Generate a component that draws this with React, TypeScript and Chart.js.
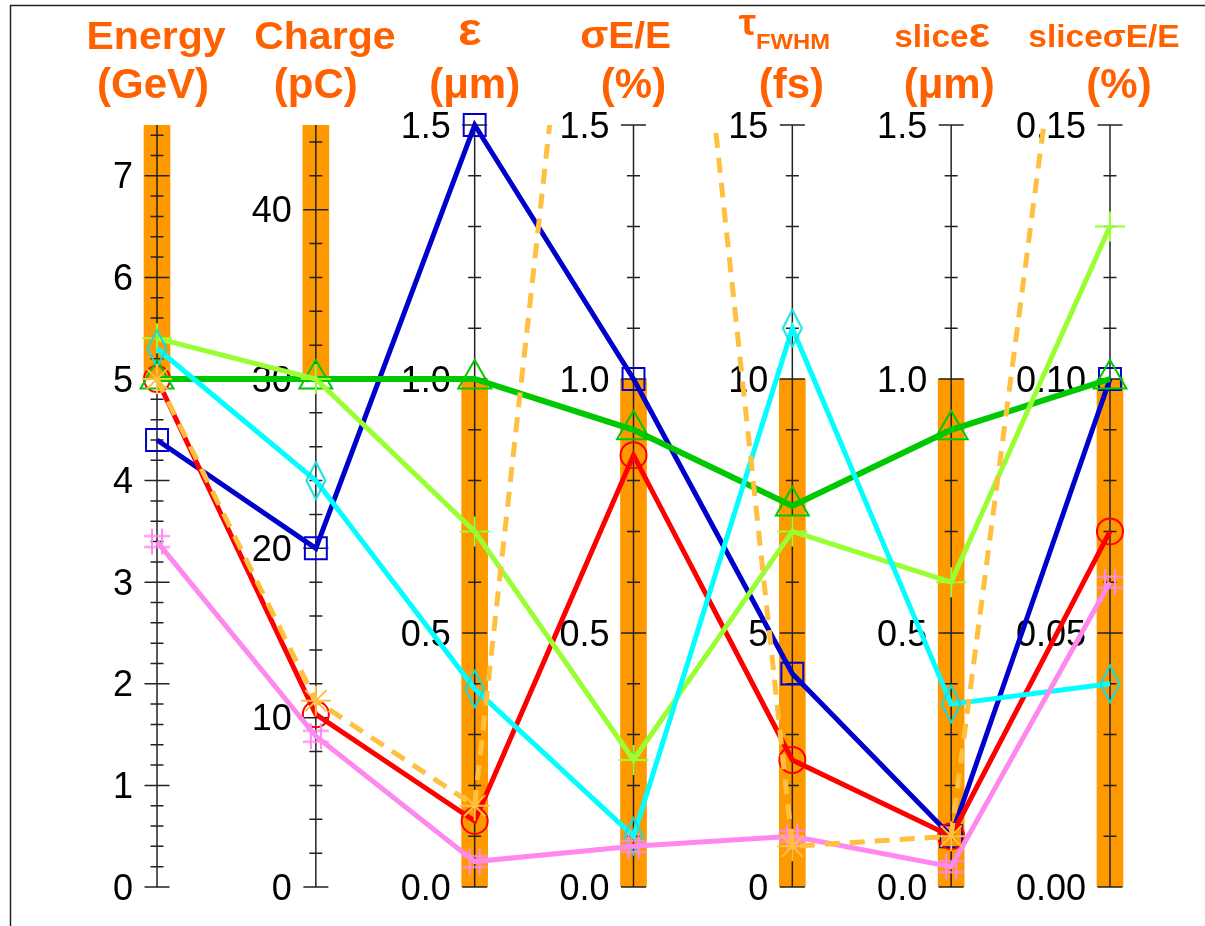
import React, { useEffect, useRef } from "react";
import { Chart, registerables } from "chart.js";

Chart.register(...registerables);

// ---------- axes (parallel coordinates) ----------
const axisTitles = ["Energy", "Charge", "ε", "σE/E", "τFWHM", "sliceε", "sliceσE/E"];
const axisUnits = ["(GeV)", "(pC)", "(μm)", "(%)", "(fs)", "(μm)", "(%)"];
const axisMax = [7.5, 45, 1.5, 1.5, 15, 1.5, 0.15];
const majorStep = [1, 10, 0.5, 0.5, 5, 0.5, 0.05];
const minorStep = [0.2, 2, 0.1, 0.1, 1, 0.1, 0.01];

const tickLabelsEnergy = ["0", "1", "2", "3", "4", "5", "6", "7"];
const tickLabelsCharge = ["0", "10", "20", "30", "40"];
const tickLabelsEmit = ["0.0", "0.5", "1.0", "1.5"];
const tickLabelsSpread = ["0.0", "0.5", "1.0", "1.5"];
const tickLabelsTau = ["0", "5", "10", "15"];
const tickLabelsSliceEmit = ["0.0", "0.5", "1.0", "1.5"];
const tickLabelsSliceSpread = ["0.00", "0.05", "0.10", "0.15"];
const tickLabels = [
  tickLabelsEnergy,
  tickLabelsCharge,
  tickLabelsEmit,
  tickLabelsSpread,
  tickLabelsTau,
  tickLabelsSliceEmit,
  tickLabelsSliceSpread,
];

// target windows (orange bars)
const targetLow = [5, 30, 0, 0, 0, 0, 0];
const targetHigh = [7.5, 45, 1.0, 1.0, 10, 1.0, 0.1];

// ---------- series ----------
const seriesBlue = [4.4, 20, 1.5, 1.0, 4.2, 0.1, 0.1];
const seriesRed = [5.0, 10.2, 0.13, 0.85, 2.5, 0.1, 0.07];
const seriesGreen = [5.0, 30, 1.0, 0.9, 7.5, 0.9, 0.1];
const seriesLightGreen = [5.4, 30, 0.7, 0.25, 7.0, 0.6, 0.13];
const seriesCyan = [5.3, 24, 0.39, 0.1, 11, 0.36, 0.04];
const seriesPink = [3.4, 8.9, 0.05, 0.08, 1.0, 0.04, 0.06];
const seriesOrange = [5.0, 11, 0.16, 3.0, 0.8, 0.1, 0.25];

const FF = '"Liberation Sans", Arial, Helvetica, sans-serif';
const TITLE_COLOR = "#ff6000";

const norm = (vals: number[]) => vals.map((v, i) => ({ x: i, y: v / axisMax[i] }));

type Seg = { text: string; font: string; dy?: number };

function makeDiamond(color: string) {
  const c = document.createElement("canvas");
  c.width = 22;
  c.height = 40;
  const g = c.getContext("2d")!;
  g.strokeStyle = color;
  g.lineWidth = 2;
  g.beginPath();
  g.moveTo(11, 1.5);
  g.lineTo(20.5, 20);
  g.lineTo(11, 38.5);
  g.lineTo(1.5, 20);
  g.closePath();
  g.stroke();
  return c;
}

function makeHash(color: string) {
  const c = document.createElement("canvas");
  c.width = 30;
  c.height = 30;
  const g = c.getContext("2d")!;
  g.strokeStyle = color;
  g.lineWidth = 2;
  g.beginPath();
  g.moveTo(10, 2);
  g.lineTo(10, 28);
  g.moveTo(20, 2);
  g.lineTo(20, 28);
  g.moveTo(2, 9.5);
  g.lineTo(28, 9.5);
  g.moveTo(2, 20.5);
  g.lineTo(28, 20.5);
  g.stroke();
  return c;
}

function drawRich(ctx: CanvasRenderingContext2D, segs: Seg[], cx: number, baseline: number, sx: number) {
  let total = 0;
  for (const s of segs) {
    ctx.font = s.font;
    total += ctx.measureText(s.text).width;
  }
  ctx.save();
  ctx.translate(cx - (total * sx) / 2, baseline);
  ctx.scale(sx, 1);
  let x = 0;
  for (const s of segs) {
    ctx.font = s.font;
    ctx.fillText(s.text, x, s.dy || 0);
    x += ctx.measureText(s.text).width;
  }
  ctx.restore();
}

const BAR_INDEX = 7;

export default function App() {
  const ref = useRef<HTMLCanvasElement | null>(null);

  useEffect(() => {
    if (!ref.current) return;

    const b38 = `bold 38px ${FF}`;
    const b31 = `bold 31px ${FF}`;
    const titleRow1: Seg[][] = [
      [{ text: axisTitles[0], font: b38 }],
      [{ text: axisTitles[1], font: b38 }],
      [{ text: "ε", font: `bold 46px ${FF}`, dy: -4 }],
      [
        { text: "σ", font: `bold 38px ${FF}`, dy: -1 },
        { text: "E/E", font: `bold 36px ${FF}`, dy: -1 },
      ],
      [
        { text: "τ", font: `bold 36px ${FF}`, dy: -14 },
        { text: "FWHM", font: `bold 22px ${FF}` },
      ],
      [
        { text: "slice", font: b31, dy: -2 },
        { text: "ε", font: `bold 42px ${FF}`, dy: -2 },
      ],
      [
        { text: "slice", font: b31, dy: -2 },
        { text: "σ", font: `bold 31px ${FF}`, dy: -2 },
        { text: "E/E", font: b31, dy: -2 },
      ],
    ];
    const row1Offset = [-1, 9, -5, -8, -8, -9, -6];
    const row2Offset = [-4, 0, 0, 0, -1, -2, 9];

    const axesPlugin = {
      id: "pcAxes",
      afterDatasetDraw(chart: any, args: any) {
        if (args.index !== BAR_INDEX) return;
        const ctx: CanvasRenderingContext2D = chart.ctx;
        const xs = chart.scales.x;
        ctx.save();
        ctx.strokeStyle = "#222";
        ctx.lineWidth = 1.5;
        for (let i = 0; i < axisMax.length; i++) {
          const sc = chart.scales["a" + i];
          const x = xs.getPixelForValue(i);
          ctx.beginPath();
          ctx.moveTo(x, sc.getPixelForValue(axisMax[i]));
          ctx.lineTo(x, sc.getPixelForValue(0));
          ctx.stroke();
          const n = Math.floor(axisMax[i] / minorStep[i] + 1e-6);
          const ratio = Math.round(majorStep[i] / minorStep[i]);
          ctx.beginPath();
          for (let k = 0; k <= n; k++) {
            const y = sc.getPixelForValue(k * minorStep[i]);
            const len = k % ratio === 0 ? 12.5 : 6.5;
            ctx.moveTo(x - len, y);
            ctx.lineTo(x + len, y);
          }
          ctx.stroke();
          ctx.fillStyle = "#000";
          ctx.font = `36px ${FF}`;
          ctx.textAlign = "right";
          ctx.textBaseline = "alphabetic";
          tickLabels[i].forEach((lab, j) => {
            const y = sc.getPixelForValue(j * majorStep[i]);
            ctx.fillText(lab, x - 24, y + 12.5);
          });
        }
        ctx.restore();
      },
      afterDraw(chart: any) {
        const ctx: CanvasRenderingContext2D = chart.ctx;
        const xs = chart.scales.x;
        ctx.save();
        ctx.fillStyle = TITLE_COLOR;
        ctx.textAlign = "left";
        ctx.textBaseline = "alphabetic";
        for (let i = 0; i < axisMax.length; i++) {
          const x = xs.getPixelForValue(i);
          drawRich(ctx, titleRow1[i], x + row1Offset[i], 49, 1.08);
          drawRich(ctx, [{ text: axisUnits[i], font: `bold 42px ${FF}` }], x + row2Offset[i], 98, 1.0);
        }
        // frame
        ctx.strokeStyle = "#222";
        ctx.lineWidth = 1.5;
        ctx.strokeRect(10.5, 5.5, 1400, 1400);
        ctx.restore();
      },
    };

    const lineDs = (label: string, vals: number[], color: string, style: any, radius: number, order: number, extra: any = {}) => ({
      type: "line",
      label,
      data: norm(vals),
      borderColor: color,
      borderWidth: 5,
      pointStyle: style,
      pointRadius: radius,
      pointBorderWidth: 2,
      pointBorderColor: extra.pointColor || color,
      pointBackgroundColor: "rgba(0,0,0,0)",
      tension: 0,
      fill: false,
      order,
      clip: 25,
      xAxisID: "x",
      yAxisID: "y",
      ...extra,
    });

    const scales: any = {
      x: { type: "linear", min: -0.5, max: 6.5, display: false, offset: false },
      y: { type: "linear", min: 0, max: 1, display: false },
    };
    axisMax.forEach((m, i) => {
      scales["a" + i] = { type: "linear", min: 0, max: m, display: false, position: "left" };
    });

    const chart = new Chart(ref.current, {
      type: "line",
      data: {
        datasets: [
          lineDs("orange", seriesOrange, "#ffc040", "star", 15, 0, {
            borderDash: [15, 10],
            clip: { left: 25, top: 0, right: 25, bottom: 25 },
          }),
          lineDs("pink", seriesPink, "#ff88ee", makeHash("#ff88ee"), 10, 1),
          lineDs("cyan", seriesCyan, "#00ffff", makeDiamond("#10dede"), 10, 2, { pointColor: "#10dede" }),
          lineDs("lightgreen", seriesLightGreen, "#99ff33", "cross", 15, 3),
          lineDs("green", seriesGreen, "#00c800", "triangle", 19, 4, { borderWidth: 6 }),
          lineDs("red", seriesRed, "#ff0000", "circle", 13, 5),
          lineDs("blue", seriesBlue, "#0000cc", "rect", 15.5, 6),
          {
            type: "bar",
            label: "target",
            data: targetLow.map((lo, i) => ({ x: i, y: [lo / axisMax[i], targetHigh[i] / axisMax[i]] })),
            backgroundColor: "#ff9900",
            borderWidth: 0,
            barThickness: 26,
            order: 100,
            xAxisID: "x",
            yAxisID: "y",
          },
        ] as any,
      },
      options: {
        animation: false,
        responsive: false,
        devicePixelRatio: 1,
        events: [],
        layout: { autoPadding: false, padding: { left: 77.6, right: 15.6, top: 125, bottom: 39 } },
        scales,
        plugins: {
          legend: { display: false },
          tooltip: { enabled: false },
          title: { display: false },
        },
      } as any,
      plugins: [axesPlugin as any],
    });

    return () => chart.destroy();
  }, []);

  return (
    <div style={{ position: "absolute", left: 0, top: 0, width: 1205, height: 926, background: "#fff" }}>
      <canvas ref={ref} width={1205} height={926} style={{ display: "block" }} />
    </div>
  );
}
